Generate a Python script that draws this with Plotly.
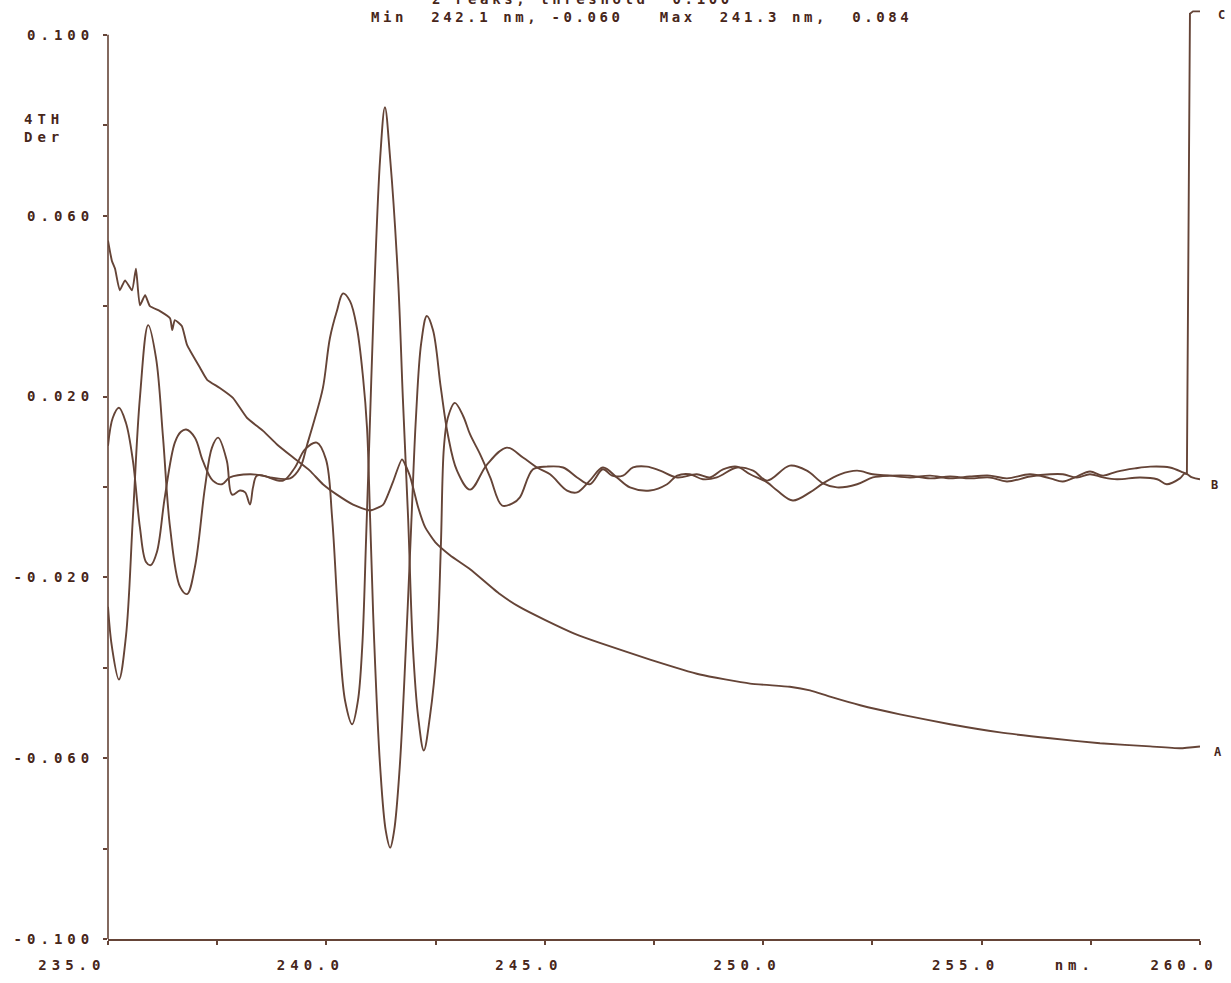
import plotly.graph_objects as go

# ---------------- data (wavelength nm, 4th derivative) -------------
# Curve A: noisy, decaying trace
a_x = [235.00, 235.09, 235.16, 235.27, 235.39, 235.55, 235.64, 235.73, 235.85, 235.96,
       236.19, 236.42, 236.47, 236.53, 236.69, 236.81, 237.11, 237.27, 237.56, 237.86,
       238.18, 238.55, 238.87, 239.24, 239.62, 239.92, 240.24, 240.61, 241.00, 241.30,
       241.52, 241.73, 241.91, 242.10, 242.26, 242.49, 242.83, 243.29, 243.97, 244.43,
       245.00, 245.69, 246.26, 247.41, 248.55, 249.70, 250.61, 251.07, 251.53, 252.22,
       253.13, 254.28, 255.42, 256.57, 257.71, 258.86, 259.54, 260.00]
a_y = [0.0545, 0.0500, 0.0483, 0.0435, 0.0457, 0.0435, 0.0483, 0.0402, 0.0424, 0.0400,
       0.0389, 0.0373, 0.0347, 0.0369, 0.0356, 0.0314, 0.0263, 0.0237, 0.0219, 0.0197,
       0.0153, 0.0124, 0.0094, 0.0065, 0.0036, 0.0006, -0.0017, -0.0039, -0.0052, -0.0039,
       0.0010, 0.0061, 0.0025, -0.0045, -0.0089, -0.0122, -0.0151, -0.0182, -0.0237, -0.0266,
       -0.0294, -0.0325, -0.0345, -0.0382, -0.0415, -0.0435, -0.0442, -0.0450, -0.0464, -0.0483,
       -0.0503, -0.0525, -0.0543, -0.0556, -0.0567, -0.0574, -0.0578, -0.0574]

# Curve B: derivative trace with the -0.080 minimum
b_x = [235.00, 235.09, 235.25, 235.41, 235.57, 235.73, 235.92, 236.10, 236.26, 236.42,
       236.65, 236.81, 236.99, 237.22, 237.38, 237.52, 237.72, 237.84, 238.02, 238.14,
       238.25, 238.32, 238.41, 238.71, 239.17, 239.40, 239.56, 239.74, 239.92, 240.08,
       240.24, 240.38, 240.54, 240.70, 240.84, 240.93, 241.00, 241.09, 241.23, 241.36,
       241.46, 241.55, 241.68, 241.82, 241.94, 242.05, 242.17, 242.30, 242.44, 242.62,
       242.78, 242.99, 243.29, 243.68, 244.13, 244.50, 244.82, 245.12, 245.51, 245.74,
       246.03, 246.33, 246.65, 246.95, 247.41, 247.80, 248.03, 248.32, 248.62, 248.94,
       249.40, 249.77, 250.09, 250.61, 251.00, 251.37, 251.69, 252.15, 252.51, 252.90,
       253.36, 253.82, 254.28, 254.73, 255.19, 255.58, 256.11, 256.57, 256.86, 257.18,
       257.48, 257.78, 258.10, 258.63, 259.02, 259.24, 259.54, 259.66, 259.82, 260.00]
b_y = [-0.0265, -0.0354, -0.0426, -0.0331, -0.0067, 0.0197, 0.0358, 0.0285, 0.0109, -0.0089,
       -0.0221, -0.0237, -0.0177, -0.0001, 0.0087, 0.0109, 0.0058, -0.0017, -0.0008, -0.0012,
       -0.0039, -0.0001, 0.0025, 0.0021, 0.0019, 0.0043, 0.0094, 0.0153, 0.0219, 0.0329,
       0.0389, 0.0428, 0.0411, 0.0351, 0.0241, 0.0131, -0.0067, -0.0331, -0.0618, -0.0761,
       -0.0798, -0.0761, -0.0618, -0.0354, -0.0089, 0.0153, 0.0318, 0.0378, 0.0347, 0.0219,
       0.0116, 0.0036, -0.0006, 0.0050, 0.0087, 0.0065, 0.0043, 0.0028, -0.0008, -0.0012,
       0.0014, 0.0043, 0.0021, -0.0001, -0.0008, 0.0006, 0.0025, 0.0028, 0.0017, 0.0021,
       0.0043, 0.0036, 0.0014, 0.0047, 0.0036, 0.0008, -0.0001, 0.0006, 0.0021, 0.0025,
       0.0025, 0.0019, 0.0023, 0.0019, 0.0021, 0.0012, 0.0023, 0.0028, 0.0028, 0.0021,
       0.0028, 0.0021, 0.0017, 0.0021, 0.0017, 0.0006, 0.0019, 0.0030, 0.0021, 0.0017]

# Curve C: derivative trace with the 0.084 maximum
c_x = [235.00, 235.11, 235.25, 235.41, 235.57, 235.73, 235.87, 235.98, 236.12, 236.30,
       236.53, 236.67, 236.79, 236.99, 237.17, 237.40, 237.61, 237.79, 238.25, 238.55,
       239.01, 239.28, 239.51, 239.78, 239.99, 240.13, 240.24, 240.31, 240.43, 240.59,
       240.72, 240.82, 240.91, 241.00, 241.09, 241.23, 241.34, 241.46, 241.64, 241.75,
       241.87, 241.98, 242.10, 242.23, 242.37, 242.53, 242.62, 242.69, 242.78, 242.94,
       243.13, 243.29, 243.52, 243.75, 244.02, 244.27, 244.43, 244.73, 245.05, 245.42,
       245.74, 246.03, 246.33, 246.54, 246.79, 247.02, 247.34, 247.64, 248.03, 248.48,
       248.78, 249.08, 249.40, 249.70, 250.09, 250.32, 250.68, 251.07, 251.37, 251.76,
       252.15, 252.51, 252.90, 253.36, 253.82, 254.28, 254.73, 255.19, 255.58, 256.11,
       256.57, 256.86, 257.18, 257.48, 257.78, 258.10, 258.51, 258.86, 259.31, 259.61,
       259.70]
c_y = [0.0091, 0.0153, 0.0175, 0.0142, 0.0058, -0.0089, -0.0166, -0.0173, -0.0144, -0.0023,
       0.0098, 0.0122, 0.0127, 0.0109, 0.0058, 0.0014, 0.0006, 0.0021, 0.0028, 0.0025,
       0.0014, 0.0043, 0.0083, 0.0098, 0.0061, -0.0067, -0.0243, -0.0354, -0.0474, -0.0525,
       -0.0474, -0.0354, -0.0111, 0.0153, 0.0417, 0.0726, 0.0840, 0.0726, 0.0461, 0.0197,
       -0.0067, -0.0354, -0.0508, -0.0583, -0.0508, -0.0354, -0.0133, 0.0087, 0.0153, 0.0186,
       0.0157, 0.0116, 0.0072, 0.0021, -0.0041, -0.0036, -0.0023, 0.0039, 0.0045, 0.0043,
       0.0021, 0.0006, 0.0039, 0.0025, 0.0025, 0.0043, 0.0045, 0.0036, 0.0021, 0.0028,
       0.0021, 0.0039, 0.0045, 0.0028, 0.0010, -0.0008, -0.0030, -0.0012, 0.0008, 0.0028,
       0.0036, 0.0028, 0.0025, 0.0021, 0.0025, 0.0019, 0.0023, 0.0025, 0.0019, 0.0028,
       0.0019, 0.0012, 0.0023, 0.0034, 0.0025, 0.0034, 0.0041, 0.0045, 0.0043, 0.0032,
       0.0028]
# end of curve C: the pen jumps up at the right edge
c_tail_x = [259.70, 259.77, 259.84, 260.00]
c_tail_y = [0.0028, 0.1047, 0.1052, 0.1052]

x_tick_vals = [235, 237.5, 240, 242.5, 245, 247.5, 250, 252.5, 255, 257.5, 260]
x_tick_text = ["235.0\u00a0\u00a0\u00a0", "", "240.0", "", "245.0", "", "250.0", "",
               "255.0", "nm.", "260.0"]
y_tick_vals = [-0.1, -0.08, -0.06, -0.04, -0.02, 0.0, 0.02, 0.04, 0.06, 0.08, 0.1]
y_tick_text = ["-0.100", "", "-0.060", "", "-0.020", "", "0.020", "", "0.060", "", "0.100"]

title_line1 = "2 Peaks, threshold\u00a0\u00a00.100"
title_line2 = "Min\u00a0\u00a0242.1 nm, -0.060\u00a0\u00a0\u00a0Max\u00a0\u00a0241.3 nm,\u00a0\u00a00.084"
y_title = "4TH<br>Der"
curve_labels = ["A", "B", "C"]

# ---------------- style / placement ----------------
LINE = "#654437"
TXT = "#47261a"
FONT = "DejaVu Sans Mono"
label_pos = [(1.0165, 0.2015), (1.0137, 0.4887), (1.0201, 0.9946)]  # paper coords
y_title_pos = (-0.0788, 0.8725)


def spaced(s, px):
    if not s:
        return s
    return f'<span style="letter-spacing:{px}px">{s}</span>'


fig = go.Figure()
fig.add_trace(go.Scatter(x=a_x, y=a_y, mode="lines",
                         line=dict(color=LINE, width=1.9, shape="spline", smoothing=0.5)))
fig.add_trace(go.Scatter(x=b_x, y=b_y, mode="lines",
                         line=dict(color=LINE, width=1.9, shape="spline", smoothing=1.0)))
fig.add_trace(go.Scatter(x=c_x, y=c_y, mode="lines",
                         line=dict(color=LINE, width=1.9, shape="spline", smoothing=1.0)))
fig.add_trace(go.Scatter(x=c_tail_x, y=c_tail_y, mode="lines",
                         line=dict(color=LINE, width=1.9)))

tickfont = dict(family=FONT, size=14, color=TXT, weight="bold")

fig.update_layout(
    width=1231, height=983,
    margin=dict(l=108, r=31, t=10, b=40),
    paper_bgcolor="white", plot_bgcolor="white",
    showlegend=False,
    xaxis=dict(range=[235, 260], showgrid=False, zeroline=False,
               showline=True, linecolor=LINE, linewidth=1.6,
               ticks="outside", ticklen=4, tickwidth=1.6, tickcolor=LINE,
               tickmode="array", tickvals=x_tick_vals,
               ticktext=[spaced(t, 5.0) for t in x_tick_text],
               ticklabelshift=-16, ticklabelstandoff=8,
               tickfont=tickfont),
    yaxis=dict(range=[-0.1, 0.1055], showgrid=False, zeroline=False,
               showline=False,
               ticks="outside", ticklen=4, tickwidth=1.6, tickcolor=LINE,
               tickmode="array", tickvals=y_tick_vals,
               ticktext=[spaced(t, 5.0) for t in y_tick_text],
               ticklabelstandoff=6,
               tickfont=tickfont),
)

# y axis line, drawn from -0.1 up to 0.1 only (0.1 sits at 0.2/0.2055 of the y domain)
fig.add_shape(type="line", xref="paper", yref="y domain", x0=0, x1=0,
              y0=0, y1=0.2 / 0.2055, line=dict(color=LINE, width=1.6))

ann_font = dict(family=FONT, size=14, color=TXT, weight="bold")
fig.add_annotation(text=spaced(title_line1, 3.6), xref="paper", yref="paper",
                   x=0.2949, y=1.0118, xanchor="left", yanchor="middle",
                   showarrow=False, font=ann_font)
fig.add_annotation(text=spaced(title_line2, 3.6), xref="paper", yref="paper",
                   x=0.2390, y=0.9925, xanchor="left", yanchor="middle",
                   showarrow=False, font=ann_font)
fig.add_annotation(text=spaced(y_title, 5.0), xref="paper", yref="paper",
                   x=y_title_pos[0], y=y_title_pos[1], xanchor="left", yanchor="middle",
                   align="left", showarrow=False, font=ann_font)
for t, (lx, ly) in zip(curve_labels, label_pos):
    fig.add_annotation(text=t, xref="paper", yref="paper", x=lx, y=ly,
                       xanchor="center", yanchor="middle", showarrow=False,
                       font=dict(family=FONT, size=12, color=TXT, weight="bold"))

# remove the page's default 8px body margin so the figure sits at the window origin
fig.write_html("out.html", config={"displayModeBar": False},
               post_script="document.body.style.margin='0';")
